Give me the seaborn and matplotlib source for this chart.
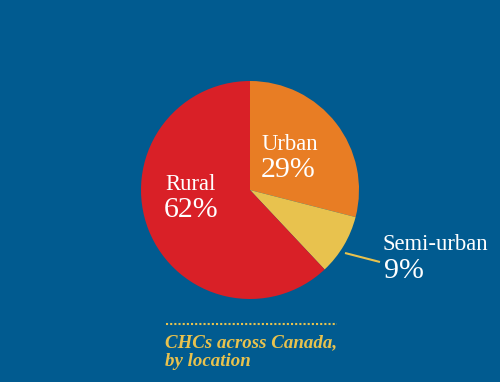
import matplotlib
matplotlib.use("Agg")
import matplotlib.pyplot as plt
import seaborn as sns

categories = ["Urban", "Semi-urban", "Rural"]
shares = [29, 9, 62]
pct_labels = ["29%", "9%", "62%"]
title_lines = ["CHCs across Canada,", "by location"]

sns.set_theme(style="white")
plt.rcParams['font.family'] = ['Liberation Serif', 'DejaVu Serif']

BG = "#015B90"
colors = sns.color_palette(["#E87D24", "#E8C24E", "#D92027"])
GOLD = "#E8C24E"
W, H = 500, 382

fig = plt.figure(figsize=(5.0, 3.82), dpi=100, facecolor=BG)
ax = fig.add_axes([0, 0, 1, 1])
ax.set_facecolor(BG)

def Y(p):
    return H - p

ax.pie(shares, colors=colors, startangle=90, counterclock=False,
       center=(250, Y(190)), radius=109, frame=True,
       wedgeprops=dict(linewidth=0))
ax.set_xlim(0, W)
ax.set_ylim(0, H)
ax.set_aspect('equal')
ax.axis('off')

NAME_FS = 16.3
PCT_FS = 21.5

ax.text(262, Y(150), categories[0], color="white", fontsize=NAME_FS, va='baseline', ha='left')
ax.text(261, Y(177), pct_labels[0], color="white", fontsize=PCT_FS, va='baseline', ha='left')
ax.text(165, Y(190), categories[2], color="white", fontsize=NAME_FS, va='baseline', ha='left')
ax.text(164, Y(217), pct_labels[2], color="white", fontsize=PCT_FS, va='baseline', ha='left')
ax.text(383, Y(250), categories[1], color="white", fontsize=NAME_FS, va='baseline', ha='left')
ax.text(384, Y(278), pct_labels[1], color="white", fontsize=PCT_FS, va='baseline', ha='left')

# leader line
ax.plot([345, 380], [Y(253), Y(262)], color=GOLD, lw=1.5, solid_capstyle='butt')

# dotted rule
ax.plot([166, 337], [Y(324), Y(324)], color=GOLD, lw=1.5, ls=(0, (1, 1)))

# caption
ax.text(165, Y(347), title_lines[0], color=GOLD, fontsize=13.6, style='italic',
        fontweight='bold', va='baseline', ha='left')
ax.text(165, Y(366), title_lines[1], color=GOLD, fontsize=13.6, style='italic',
        fontweight='bold', va='baseline', ha='left')

fig.savefig("out.png", dpi=100, facecolor=BG)
